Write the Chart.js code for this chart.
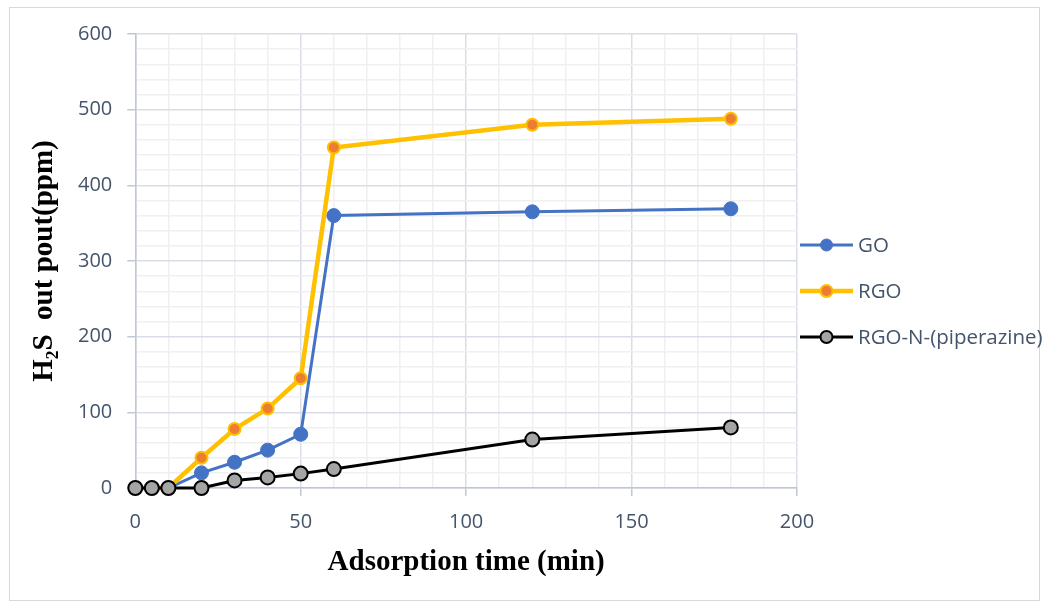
<!DOCTYPE html>
<html>
<head>
<meta charset="utf-8">
<script src="https://cdn.jsdelivr.net/npm/chart.js@4.4.0/dist/chart.umd.min.js"></script>
<style>
  body { margin: 0; background: #fff; }
  #wrap { position: relative; width: 1047px; height: 605px; }
  #frame { position: absolute; left: 9px; top: 7px; width: 1031px; height: 594px; border: 1px solid #d9d9d9; box-sizing: border-box; }
  canvas { position: absolute; left: 0; top: 0; }
</style>
</head>
<body>
<div id="wrap">
  <div id="frame"></div>
  <canvas id="chart" width="1047" height="605"></canvas>
</div>
<script>
// czasy adsorpcji (min)
const times = [0, 5, 10, 20, 30, 40, 50, 60, 120, 180];

// stezenia H2S na wyjsciu (ppm)
const goValues = [0, 0, 0, 20, 34, 50, 71, 360, 365, 369];
const rgoValues = [0, 0, 0, 40, 78, 105, 145, 450, 480, 488];
const pipValues = [0, 0, 0, 0, 10, 14, 19, 25, 64, 80];

const seriesNames = ['GO', 'RGO', 'RGO-N-(piperazine)'];

const toXY = vals => vals.map((v, i) => ({ x: times[i], y: v }));

const labelFont = '"Open Sans", sans-serif';
const tickFont = { family: labelFont, size: 20 };
const titleFont = { family: '"Liberation Serif", "Times New Roman", serif', size: 29, weight: 'bold', lineHeight: 1 };

// legenda rysowana recznie: linia z kropka jak w Excelu
const excelLegend = {
  id: 'excelLegend',
  afterDraw(chart) {
    const g = chart.ctx;
    const area = chart.chartArea;
    const mid = (area.top + area.bottom) / 2 + 30;
    chart.data.datasets.forEach((ds, i) => {
      const y = mid + (i - 1) * 46;
      const x0 = area.right + 3;
      g.save();
      g.strokeStyle = ds.borderColor;
      g.lineWidth = ds.borderWidth;
      g.beginPath(); g.moveTo(x0, y); g.lineTo(x0 + 53, y); g.stroke();
      g.beginPath(); g.arc(x0 + 26.5, y, 6, 0, Math.PI * 2);
      g.fillStyle = ds.pointBackgroundColor; g.fill();
      g.lineWidth = ds.pointBorderWidth;
      g.strokeStyle = ds.pointBorderColor; g.stroke();
      g.fillStyle = '#44546a';
      g.font = '20.5px ' + labelFont;
      g.textBaseline = 'middle';
      g.fillText(ds.label, x0 + 58, y + 1);
      g.restore();
    });
  }
};

const ctx = document.getElementById('chart').getContext('2d');
new Chart(ctx, {
  type: 'line',
  data: {
    datasets: [
      {
        label: seriesNames[0],
        data: toXY(goValues),
        borderColor: '#4472c4',
        pointBackgroundColor: '#4472c4',
        pointBorderColor: '#4472c4',
        borderWidth: 3,
        pointRadius: 7,
        pointBorderWidth: 1,
        clip: false,
        order: 3
      },
      {
        label: seriesNames[1],
        data: toXY(rgoValues),
        borderColor: '#ffc000',
        pointBackgroundColor: '#ed7d31',
        pointBorderColor: '#ffc000',
        borderWidth: 4.5,
        pointRadius: 6,
        pointBorderWidth: 2,
        clip: false,
        order: 2
      },
      {
        label: seriesNames[2],
        data: toXY(pipValues),
        borderColor: '#000000',
        pointBackgroundColor: '#a5a5a5',
        pointBorderColor: '#000000',
        borderWidth: 3,
        pointRadius: 7,
        pointBorderWidth: 2,
        clip: false,
        order: 1
      }
    ]
  },
  options: {
    responsive: false,
    animation: false,
    layout: { padding: { left: 26, top: 34, right: 250, bottom: 24 } },
    plugins: {
      tooltip: { enabled: false },
      legend: { display: false }
    },
    scales: {
      x: {
        type: 'linear',
        min: 0, max: 200,
        ticks: {
          stepSize: 10,
          autoSkip: false,
          maxRotation: 0,
          color: '#44546a',
          font: tickFont,
          padding: 14,
          callback: v => (v % 50 === 0 ? v : '')
        },
        grid: {
          color: c => (c.tick && c.tick.value % 50 === 0 ? '#d9dde6' : '#f0f0f0'),
          lineWidth: 1.5,
          tickLength: 8,
          tickColor: c => (c.tick && c.tick.value % 50 === 0 ? '#bfc6d4' : 'rgba(0,0,0,0)')
        },
        border: { color: '#bfc6d4', width: 1.5 },
        title: {
          display: true,
          text: 'Adsorption time (min)',
          color: '#000',
          font: titleFont,
          padding: { top: 0, bottom: 4 }
        }
      },
      y: {
        min: 0, max: 600,
        ticks: {
          stepSize: 20,
          autoSkip: false,
          color: '#44546a',
          font: tickFont,
          padding: 15,
          callback: v => (v % 100 === 0 ? v : '')
        },
        grid: {
          color: c => (c.tick && c.tick.value % 100 === 0 ? '#d9dde6' : '#f0f0f0'),
          lineWidth: 1.5,
          tickLength: 8,
          tickColor: c => (c.tick && c.tick.value % 100 === 0 ? '#bfc6d4' : 'rgba(0,0,0,0)')
        },
        border: { color: '#bfc6d4', width: 1.5 },
        title: {
          display: true,
          text: 'H\u2082S  out pout(ppm)',
          color: '#000',
          font: titleFont,
          padding: { top: 4, bottom: 4 }
        }
      }
    }
  },
  plugins: [excelLegend]
});
</script>
</body>
</html>
